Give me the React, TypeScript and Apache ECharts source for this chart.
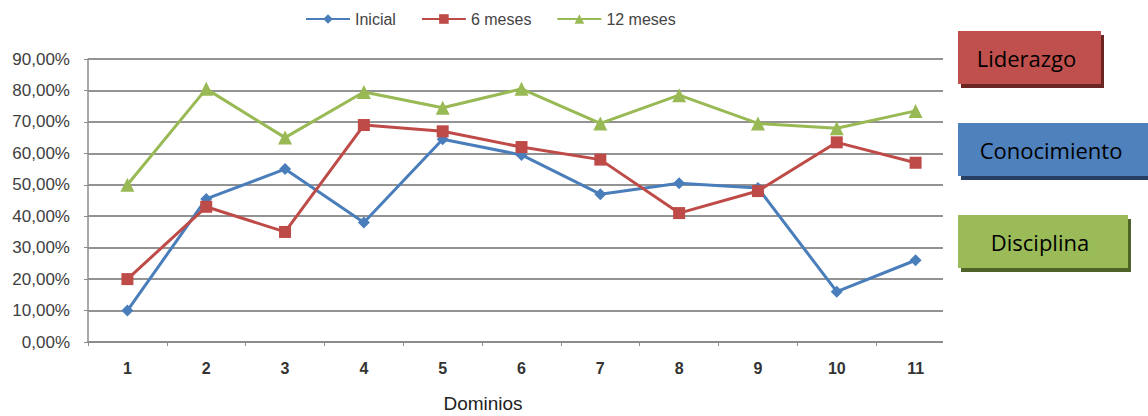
import React, { useEffect, useRef } from "react";
import * as echarts from "echarts";

// Domain numbers along the x axis
const dominios = ["1", "2", "3", "4", "5", "6", "7", "8", "9", "10", "11"];

// Percentage scores per domain
const inicial = [10, 45.5, 55, 38, 64.5, 59.5, 47, 50.5, 49, 16, 26];
const seisMeses = [20, 43, 35, 69, 67, 62, 58, 41, 48, 63.5, 57];
const doceMeses = [50, 80.5, 65, 79.5, 74.5, 80.5, 69.5, 78.5, 69.5, 68, 73.5];

const seriesNames = ["Inicial", "6 meses", "12 meses"];
const seriesColors = ["#4a7ebb", "#be4b48", "#98b954"];
const seriesSymbols = ["diamond", "rect", "triangle"];
const symbolSizes = [12, 12, 14];

// Side labels: text, fill, shadow colour, width
const tagTexts = ["Liderazgo", "Conocimiento", "Disciplina"];
const tagFills = ["#c0504d", "#4f81bd", "#9bbb59"];
const tagShadows = ["#6b2523", "#263f62", "#4f6228"];
const tagWidths = [143, 192, 170];
const tagTops = [31, 123, 215];

const FONT = "'Liberation Sans', Arial, sans-serif";

export default function App() {
  const ref = useRef<HTMLDivElement>(null);

  useEffect(() => {
    if (!ref.current) return;
    const chart = echarts.init(ref.current, undefined, { renderer: "svg" });

    const dataSets = [inicial, seisMeses, doceMeses];

    const tagGraphics: any[] = [];
    tagTexts.forEach((t, i) => {
      const x = 958;
      const y = tagTops[i];
      const w = tagWidths[i];
      const h = 53;
      tagGraphics.push({
        type: "rect",
        shape: { x: x + 3, y: y + 4, width: w, height: h },
        style: { fill: tagShadows[i] },
        z: 100,
      });
      tagGraphics.push({
        type: "rect",
        shape: { x, y, width: w, height: h },
        style: { fill: tagFills[i] },
        z: 101,
      });
      tagGraphics.push({
        type: "text",
        x: x + w / 2 - 3,
        y: y + h / 2,
        style: {
          text: t,
          fill: "#000",
          font: "22px 'Open Sans', 'Noto Sans', sans-serif",
          align: "center",
          verticalAlign: "middle",
        },
        z: 102,
      });
    });

    chart.setOption({
      animation: false,
      backgroundColor: "#ffffff",
      legend: {
        top: 6,
        left: 300,
        itemWidth: 44,
        itemHeight: 12,
        itemGap: 25,
        textStyle: { fontFamily: FONT, fontSize: 16, color: "#444" },
        data: seriesNames,
      },
      grid: {
        left: 88,
        top: 59,
        width: 867,
        height: 283,
        containLabel: false,
      },
      xAxis: {
        type: "category",
        data: dominios,
        axisLine: { lineStyle: { color: "#8c8c8c", width: 2 } },
        axisTick: { show: true, length: 4, lineStyle: { color: "#8c8c8c" } },
        axisLabel: {
          fontFamily: FONT,
          fontSize: 16,
          fontWeight: "bold",
          color: "#333",
          margin: 18,
        },
        splitLine: { show: false },
      },
      yAxis: {
        type: "value",
        min: 0,
        max: 90,
        interval: 10,
        axisLine: { show: true, lineStyle: { color: "#8c8c8c", width: 1.5 } },
        axisTick: { show: true, length: 4, lineStyle: { color: "#8c8c8c" } },
        axisLabel: {
          fontFamily: FONT,
          fontSize: 17,
          color: "#404040",
          margin: 18,
          formatter: (v: number) => `${v.toFixed(2).replace(".", ",")}%`,
        },
        splitLine: { lineStyle: { color: "#939393", width: 1.8 } },
      },
      series: seriesNames.map((name, i) => ({
        name,
        type: "line",
        data: dataSets[i],
        symbol: seriesSymbols[i],
        symbolSize: symbolSizes[i],
        showAllSymbol: true,
        lineStyle: { color: seriesColors[i], width: 3 },
        itemStyle: { color: seriesColors[i] },
        z: 3 + i,
      })),
      graphic: [
        // the plot is cut off on the right where the labels begin
        {
          type: "rect",
          shape: { x: 943, y: 45, width: 15, height: 310 },
          style: { fill: "#ffffff" },
          z: 50,
        },
        // x axis title
        {
          type: "text",
          x: 483,
          y: 403,
          style: {
            text: "Dominios",
            fill: "#222",
            font: `19px ${FONT}`,
            align: "center",
            verticalAlign: "middle",
          },
          z: 60,
        },
        ...tagGraphics,
      ],
    });

    return () => chart.dispose();
  }, []);

  return (
    <div
      ref={ref}
      style={{ position: "fixed", left: 0, top: 0, width: 1148, height: 416 }}
    />
  );
}
